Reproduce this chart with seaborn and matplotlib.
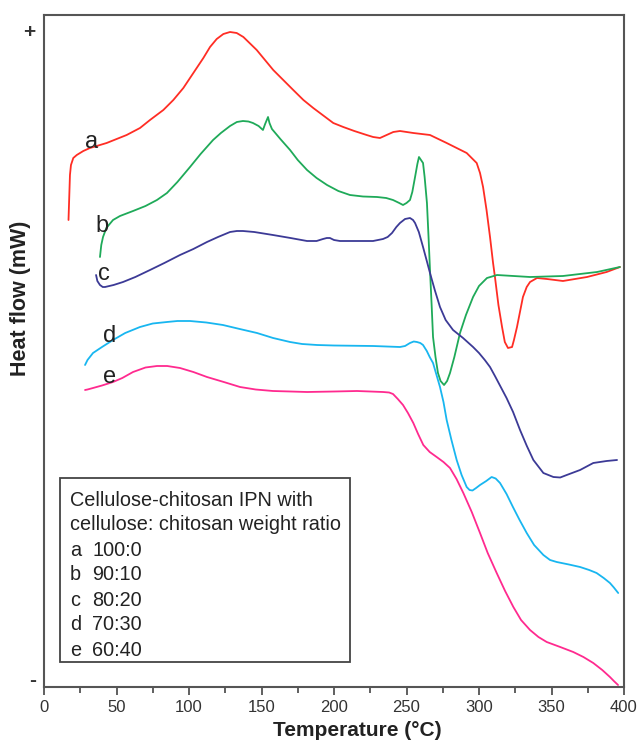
import numpy as np
import pandas as pd
import matplotlib
matplotlib.use("Agg")
import matplotlib.pyplot as plt
import seaborn as sns
from matplotlib.patches import Rectangle

# DSC traces of cellulose-chitosan IPN films (heat flow in arbitrary units)
temp_a = [16.9, 17.9, 18.6, 20.2, 22.6, 27.1, 31.7, 43.2, 57.0, 66.2, 73.1, 82.3, 89.2, 96.1,
          103.0, 109.9, 114.5, 119.1, 123.7, 128.3, 132.9, 137.5, 146.7, 158.1, 171.9, 178.9,
          185.7, 190.3, 199.5, 206.4, 214.0, 222.5, 227.0, 231.7, 236.3, 240.9, 245.5, 254.7,
          266.2, 277.7, 291.5, 298.4, 300.7, 302.8, 305.2, 307.6, 309.7, 311.0, 313.4, 315.9,
          317.8, 320.0, 322.8, 324.1, 326.2, 330.3, 332.9, 335.2, 340.0, 346.9, 357.9, 374.5,
          388.0, 397.2]
flow_a = [467, 512, 522, 529, 532, 536, 539, 544, 552, 559, 567, 577, 587, 599,
          614, 629, 640, 648, 653, 655, 654, 650, 637, 617, 597, 587,
          579, 574, 564, 560, 556, 552, 550, 549, 552, 555, 556, 554,
          552, 544, 534, 524, 514, 500, 477, 450, 424, 410, 382, 360,
          345, 339, 340, 347, 360, 390, 400, 405, 409, 408, 406, 410,
          415, 420]

temp_b = [38.6, 39.5, 40.7, 43.0, 47.6, 52.4, 61.4, 70.0, 77.9, 84.8, 92.0, 100.7, 108.0,
          116.6, 122.0, 128.3, 133.0, 137.2, 141.0, 144.1, 148.0, 151.0, 152.5, 154.5, 155.5,
          157.2, 163.0, 169.7, 175.0, 181.4, 188.0, 195.2, 203.0, 211.0, 220.0, 229.7, 236.0,
          240.7, 245.0, 247.6, 250.0, 252.4, 254.0, 255.9, 257.5, 258.6, 261.4, 262.5, 264.1,
          265.2, 266.2, 267.3, 268.3, 270.0, 271.7, 273.5, 275.9, 278.0, 280.0, 283.0, 286.9,
          291.0, 295.9, 300.0, 305.5, 312.4, 335.2, 357.9, 381.4, 397.2]
flow_b = [430, 442, 450, 459, 467, 471, 476, 481, 487, 494, 505, 520, 533,
          547, 554, 561, 565, 566, 565.5, 564, 561, 557, 563, 570, 564,
          558, 548, 537, 527, 517, 509, 502, 496, 492, 490.5, 490, 489,
          487, 484, 482, 484, 487, 495, 510, 523, 530, 524, 510, 484,
          450, 417, 383, 350, 330, 314, 306, 302, 306, 314, 330, 354,
          372, 390, 401, 409, 412, 410, 411, 415, 420]

temp_c = [35.9, 36.8, 38.6, 40.5, 42.1, 48.0, 54.5, 63.0, 73.1, 83.0, 93.8, 103.0, 112.4,
          120.0, 128.3, 133.0, 137.2, 145.0, 157.9, 170.0, 181.4, 188.0, 192.4, 195.0, 197.2,
          200.0, 204.1, 215.0, 226.9, 233.8, 237.0, 240.0, 243.0, 245.5, 249.0, 252.4, 254.5,
          255.9, 258.5, 261.4, 264.0, 266.2, 269.5, 273.1, 277.0, 282.1, 289.0, 295.9, 300.0,
          304.0, 307.6, 311.0, 315.0, 319.0, 323.5, 328.3, 333.0, 337.5, 344.4, 351.3, 356.0,
          360.5, 369.7, 378.8, 388.0, 395.2]
flow_c = [412, 406, 402, 400, 400, 402, 405, 410, 417, 424, 432, 438, 445,
          450, 455, 456, 456, 455, 452, 449, 446, 446, 448, 449, 449,
          447, 446, 446, 446, 448, 450, 454, 460, 464, 468, 469, 467,
          464, 455, 440, 426, 414, 397, 380, 367, 357, 349, 340, 334,
          327, 320, 311, 300, 289, 275, 257, 241, 227, 214, 210, 209.5,
          212, 217, 224, 226, 227]

temp_d = [28.3, 30.0, 33.8, 40.0, 47.6, 56.0, 66.2, 75.0, 84.8, 92.0, 100.7, 112.0, 123.4,
          135.0, 146.9, 158.0, 169.7, 178.0, 188.3, 200.0, 226.9, 245.5, 249.0, 252.4, 255.0,
          257.2, 259.5, 261.4, 264.0, 266.0, 268.3, 270.5, 273.1, 275.5, 277.7, 281.0, 284.6,
          288.0, 291.5, 293.5, 295.5, 298.0, 300.7, 305.0, 308.7, 311.5, 314.5, 319.0, 323.4,
          328.0, 332.9, 338.0, 344.4, 349.0, 353.6, 362.0, 369.7, 376.0, 381.1, 386.0, 390.3,
          393.0, 396.0]
flow_d = [322, 327, 334, 340, 347, 354, 360, 363.5, 365, 366, 366, 364.5, 362,
          358, 354, 349, 345, 343, 342, 341.5, 341, 340, 341, 344, 345.5,
          345, 344, 342, 336, 330, 324, 313, 300, 285, 267, 247, 227,
          212, 200, 197, 196.5, 199, 202, 206, 210, 208.5, 204, 193, 180,
          167, 154, 142, 132, 127, 125, 122.5, 120, 117, 114, 109, 104,
          99.5, 94]

temp_e = [28.3, 30.0, 33.8, 40.0, 47.6, 54.0, 61.4, 70.0, 77.9, 85.0, 93.8, 103.0, 112.4,
          124.0, 135.2, 146.0, 157.9, 170.0, 181.4, 200.0, 215.9, 225.0, 233.8, 238.0, 240.7,
          244.0, 247.6, 251.0, 254.7, 258.0, 261.6, 266.0, 270.8, 275.5, 280.0, 284.5, 289.2,
          295.0, 300.7, 306.0, 312.2, 318.0, 323.7, 329.0, 335.2, 341.0, 346.7, 356.0, 365.0,
          372.0, 378.8, 385.0, 390.3, 393.0, 395.9]
flow_e = [297, 297.5, 299, 301.5, 305, 309, 315, 319.5, 321, 321, 319, 315, 310,
          305, 300, 297.5, 296, 295.5, 295, 295.5, 296, 295.5, 295, 294.5, 293,
          288, 282, 274, 264, 253, 242, 235, 230, 225, 219, 208, 194,
          175, 154, 134, 114, 96, 80, 67, 57, 50, 45, 40, 35,
          30, 24, 17, 10, 6, 2]

samples = ["a", "b", "c", "d", "e"]
ratios = ["100:0", "90:10", "80:20", "70:30", "60:40"]
colors = ["#ff2d24", "#1faa59", "#3c3a96", "#18b6f0", "#ff2a8f"]
x_ticks = [0, 50, 100, 150, 200, 250, 300, 350, 400]

frames = []
for s, t, f in zip(samples,
                   [temp_a, temp_b, temp_c, temp_d, temp_e],
                   [flow_a, flow_b, flow_c, flow_d, flow_e]):
    frames.append(pd.DataFrame({"Temperature": t, "Heat flow": f, "sample": s}))
df = pd.concat(frames, ignore_index=True)

sns.set_theme(style="ticks")
plt.rcParams["font.family"] = ["Liberation Sans", "DejaVu Sans"]

fig = plt.figure(figsize=(6.38, 7.42), dpi=100)
ax = fig.add_axes([44 / 638, 55 / 742, 580 / 638, 672 / 742])

sns.lineplot(data=df, x="Temperature", y="Heat flow", hue="sample",
             palette=dict(zip(samples, colors)), sort=False, estimator=None,
             linewidth=1.3, legend=False, ax=ax)
for line in ax.get_lines():
    line.set_solid_joinstyle("round")
    line.set_solid_capstyle("round")

ax.set_xlim(0, 400)
ax.set_ylim(0, 672)

# curve letters (left edge, baseline)
label_pos = {"a": (28.3, 539), "b": (35.2, 455), "c": (37.2, 407), "d": (40.7, 345), "e": (40.7, 304)}
for s in samples:
    x, y = label_pos[s]
    ax.text(x, y, s, fontsize=17, ha="left", va="baseline", color="#222222")

# x axis
ax.set_xticks(x_ticks)
ax.set_xticklabels([str(v) for v in x_ticks], fontsize=12, color="#333333")
ax.set_xticks(np.arange(25, 400, 50), minor=True)
ax.tick_params(axis="x", which="major", direction="out", length=6, width=1.2, color="#444444", pad=3)
ax.tick_params(axis="x", which="minor", direction="out", length=4, width=1.2, color="#444444")

# y axis: only sign markers
ax.set_yticks([656, 8])
ax.set_yticklabels(["+", "-"], fontsize=15, fontweight="bold", color="#333333")
ax.tick_params(axis="y", length=0, pad=6)

for sp in ax.spines.values():
    sp.set_color("#555555")
    sp.set_linewidth(1.5)

ax.set_xlabel("")
ax.set_ylabel("")
ax.text(0.541, -0.064, "Temperature (°C)", transform=ax.transAxes, ha="center", va="center",
        fontsize=15, fontweight="bold", color="#222222")
ax.text(-0.041, 0.579, "Heat flow (mW)", transform=ax.transAxes, ha="center", va="center",
        rotation=90, fontsize=15.5, fontweight="bold", color="#222222")

# composition box
ax.add_patch(Rectangle((16 / 580, 25 / 672), 290 / 580, 184 / 672, transform=ax.transAxes,
                       fill=False, edgecolor="#444444", linewidth=1.3))
box_lines = ["Cellulose-chitosan IPN with", "cellulose: chitosan weight ratio"]
y0 = 687 - 500
for i, line in enumerate(box_lines):
    ax.text(26 / 580, (y0 - 25 * i) / 672, line, transform=ax.transAxes, fontsize=14.3,
            ha="left", va="center", color="#222222")
for i, (s, r) in enumerate(zip(samples, ratios)):
    yy = (y0 - 25 * (i + 2)) / 672
    ax.text(26 / 580, yy, s, transform=ax.transAxes, fontsize=14.3, ha="left", va="center", color="#222222")
    ax.text(48 / 580, yy, r, transform=ax.transAxes, fontsize=14.3, ha="left", va="center", color="#222222")

fig.savefig("out.png", dpi=100, facecolor="white")
